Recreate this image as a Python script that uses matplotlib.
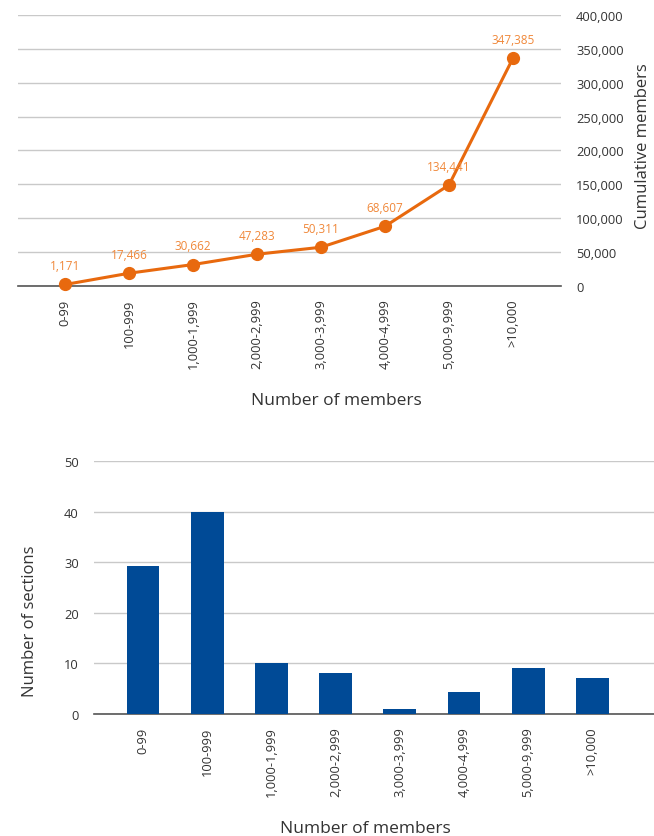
import matplotlib.pyplot as plt

plt.rcParams['font.family'] = ['Open Sans', 'DejaVu Sans']

categories = ['0-99', '100-999', '1,000-1,999', '2,000-2,999', '3,000-3,999',
              '4,000-4,999', '5,000-9,999', '>10,000']
# cumulative members: position of each point as drawn, and the printed label
cum_values = [2400, 19000, 31800, 47000, 57300, 88200, 149000, 335800]
cum_labels = ['1,171', '17,466', '30,662', '47,283', '50,311', '68,607', '134,441', '347,385']
# number of sections per size band
sections = [29.2, 40, 10, 8.1, 1, 4.3, 9, 7.1]

line_col = '#E8690E'
label_col = '#F0883A'
bar_col = '#004A96'
grid_col = '#C9C9C9'
axis_col = '#555555'
text_col = '#333333'

fig = plt.figure(figsize=(6.54, 8.37), dpi=100)

# top: cumulative members
ax1 = fig.add_axes([0.0275, 0.657, 0.830, 0.324])
x = list(range(len(categories)))
ax1.plot(x, cum_values, color=line_col, lw=2.2, marker='o', ms=8.5, zorder=3, clip_on=False)
for xi, yi, lab in zip(x, cum_values, cum_labels):
    ax1.annotate(lab, (xi, yi), xytext=(0, 9), textcoords='offset points',
                 ha='center', va='bottom', fontsize=8.5, color=label_col)
ax1.set_xlim(-0.74, 7.75)
ax1.set_ylim(0, 400000)
ax1.set_yticks(range(0, 400001, 50000))
ax1.set_yticklabels([f'{v:,}' for v in range(0, 400001, 50000)])
ax1.yaxis.tick_right()
ax1.yaxis.set_label_position('right')
ax1.set_ylabel('Cumulative members', fontsize=12, color=text_col)
ax1.yaxis.set_label_coords(1.136, 0.52)
ax1.set_xticks(x)
ax1.set_xticklabels(categories, rotation=90)
ax1.set_xlabel('Number of members', fontsize=12.5, color=text_col)
ax1.xaxis.set_label_coords(0.587, -0.39)
ax1.grid(axis='y', color=grid_col, lw=1)
ax1.set_axisbelow(True)
for s in ['top', 'left', 'right']:
    ax1.spines[s].set_visible(False)
ax1.spines['bottom'].set_color(axis_col)
ax1.spines['bottom'].set_linewidth(1.2)
ax1.tick_params(axis='both', length=0, labelsize=9.3, colors=text_col)
ax1.tick_params(axis='y', pad=11)
ax1.tick_params(axis='x', pad=9)

# bottom: number of sections
ax2 = fig.add_axes([0.144, 0.146, 0.856, 0.302])
ax2.bar(x, sections, width=0.51, color=bar_col, zorder=3)
ax2.set_xlim(-0.76, 7.96)
ax2.set_ylim(0, 50)
ax2.set_yticks(range(0, 51, 10))
ax2.set_xticks(x)
ax2.set_xticklabels(categories, rotation=90)
ax2.set_xlabel('Number of members', fontsize=12.5, color=text_col)
ax2.xaxis.set_label_coords(0.484, -0.42)
ax2.set_ylabel('Number of sections', fontsize=12, color=text_col)
ax2.yaxis.set_label_coords(-0.1, 0.37)
ax2.grid(axis='y', color=grid_col, lw=1)
ax2.set_axisbelow(True)
for s in ['top', 'left', 'right']:
    ax2.spines[s].set_visible(False)
ax2.spines['bottom'].set_color(axis_col)
ax2.spines['bottom'].set_linewidth(1.2)
ax2.tick_params(axis='both', length=0, labelsize=9.3, colors=text_col)
ax2.tick_params(axis='y', pad=11)
ax2.tick_params(axis='x', pad=9)

fig.savefig('out.png', dpi=100)
